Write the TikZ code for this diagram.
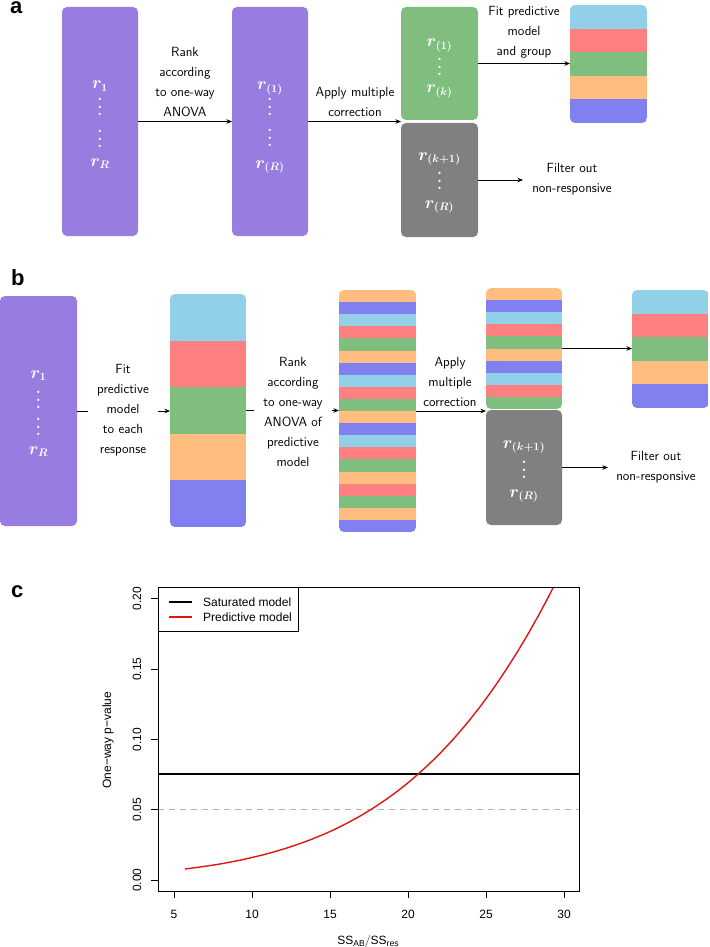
\documentclass[tikz,border=0pt]{standalone}
\usepackage{fontspec}
\newfontfamily\helv{Liberation Sans}
\usetikzlibrary{arrows.meta,fit}
\definecolor{cPU}{RGB}{152,124,224}
\definecolor{cGR}{RGB}{128,190,128}
\definecolor{cGY}{RGB}{128,128,128}
\definecolor{cLB}{RGB}{146,208,234}
\definecolor{cRD}{RGB}{255,128,128}
\definecolor{cOR}{RGB}{255,190,128}
\definecolor{cBL}{RGB}{128,128,240}
\definecolor{cDash}{RGB}{178,178,178}
\definecolor{cRed}{RGB}{225,20,20}
\newcommand{\vdotsx}{\vbox{\baselineskip7.5pt\lineskiplimit0pt\hbox{.}\hbox{.}\hbox{.}}}
\newcommand{\stripebox}[7]{%
  \begin{scope}
    \clip[rounded corners=5pt] (#2,#3) rectangle (#4,#5);
    \foreach \cc [count=\ii from 0] in {#7} {
      \pgfmathsetmacro{\ya}{#3+(#5-#3)*\ii/#6}
      \pgfmathsetmacro{\yb}{#3+(#5-#3)*(\ii+1)/#6+0.4}
      \fill[\cc] (#2,\ya) rectangle (#4,\yb);
    }
  \end{scope}
  \node[inner sep=0pt, outer sep=0pt, fit={(#2,#3) (#4,#5)}] (#1) {};
}
\tikzset{
  boxshape/.style={rounded corners=5pt, inner sep=0pt, outer sep=0pt, draw=none},
  purplebox/.style={boxshape, fill=cPU},
  greenbox/.style={boxshape, fill=cGR},
  graybox/.style={boxshape, fill=cGY},
  mtxt/.style={text=white, font=\fontsize{16}{19}\selectfont\boldmath, inner sep=0pt, anchor=base},
  dtxt/.style={text=white, font=\fontsize{16}{16}\selectfont\bfseries, inner sep=0pt},
  flowlabel/.style={font=\sffamily\fontsize{13.3}{20}\selectfont, align=center, inner sep=0pt},
  overlabel/.style={flowlabel, fill=white, inner xsep=9pt, inner ysep=2pt},
  arr/.style={-{Stealth[length=5.5pt,width=4.5pt]}, line width=0.8pt},
  panellab/.style={font=\helv\bfseries\fontsize{22}{22}\selectfont, anchor=base west, inner sep=0pt},
  ticklab/.style={font=\helv\fontsize{12}{12}\selectfont, inner sep=0pt},
  axline/.style={line width=0.8pt},
}
\begin{document}
\begin{tikzpicture}[x=1pt,y=-1pt]
\useasboundingbox (0,0) rectangle (709,947);
\fill[white] (0,0) rectangle (709,947);

% ---------------- panel a ----------------
\node[panellab] (la) at (10,14) {a};
\node[purplebox, fit={(62,7) (138,236)}] (a1) {};
\node[purplebox, fit={(232,7) (308,236)}] (a2) {};
\node[greenbox, fit={(401,7) (478,120)}] (aG) {};
\node[graybox, fit={(401,123) (478,237)}] (aY) {};
\stripebox{aS}{570}{5}{647}{123}{5}{cLB,cRD,cGR,cOR,cBL}

\node[mtxt] (a1r1) at (100,89) {$r_1$};
\node[dtxt] (a1d1) at (100,107) {\vdotsx};
\node[dtxt] (a1d2) at (100,139) {\vdotsx};
\node[mtxt] (a1rR) at (100,166) {$r_R$};

\node[mtxt] (a2r1) at (270,90) {$r_{(1)}$};
\node[dtxt] (a2d1) at (270,107) {\vdotsx};
\node[dtxt] (a2d2) at (270,138) {\vdotsx};
\node[mtxt] (a2rR) at (270,168) {$r_{(R)}$};

\node[mtxt] (aGr1) at (439.5,47) {$r_{(1)}$};
\node[dtxt] (aGd) at (439.5,67) {\vdotsx};
\node[mtxt] (aGrk) at (439.5,93) {$r_{(k)}$};

\node[mtxt] (aYr1) at (439.5,160) {$r_{(k+1)}$};
\node[dtxt] (aYd) at (439.5,181) {\vdotsx};
\node[mtxt] (aYrR) at (439.5,208) {$r_{(R)}$};

\draw[arr] (a1) -- (a2);
\node[flowlabel] (al1) at (185,82) {Rank\\according\\to one-way\\ANOVA};
\draw[arr] (a2.east) -- (a2.east -| aG.west);
\node[flowlabel] (al2) at (355,102) {Apply multiple\\correction};
\draw[arr] (aG.east) -- (aG.east -| aS.west);
\node[flowlabel] (al3) at (524,32) {Fit predictive\\model\\and group};
\coordinate (aF) at (523,180);
\draw[arr] (aY.east) -- (aF);
\node[flowlabel] (al4) at (572,179) {Filter out\\non-responsive};

% ---------------- panel b ----------------
\node[panellab] (lb) at (11,285) {b};
\node[purplebox, fit={(0,296) (77,526)}] (bP) {};
\stripebox{b2}{170}{294}{246}{527}{5}{cLB,cRD,cGR,cOR,cBL}
\stripebox{b3}{339}{290}{416}{532}{20}{cOR,cBL,cLB,cRD,cGR,cOR,cBL,cLB,cRD,cGR,cOR,cBL,cLB,cRD,cGR,cOR,cRD,cGR,cOR,cBL}
\stripebox{b4}{486}{288}{562}{409}{10}{cOR,cBL,cLB,cRD,cGR,cOR,cBL,cLB,cRD,cGR}
\node[graybox, fit={(486,410) (562,525)}] (bY) {};
\stripebox{bS}{632}{290}{708.6}{408}{5}{cLB,cRD,cGR,cOR,cBL}

\node[mtxt] (bPr1) at (38.5,378) {$r_1$};
\node[dtxt] (bPd1) at (38.5,400) {\vdotsx};
\node[dtxt] (bPd2) at (38.5,427) {\vdotsx};
\node[mtxt] (bPrR) at (38.5,454) {$r_R$};

\node[mtxt] (bYr1) at (524,448) {$r_{(k+1)}$};
\node[dtxt] (bYd) at (524,470) {\vdotsx};
\node[mtxt] (bYrR) at (524,497) {$r_{(R)}$};

\draw[arr] (bP.east) -- (bP.east -| b2.west);
\node[overlabel] (bl1) at (123,410) {Fit\\predictive\\model\\to each\\response};
\draw[arr] (b2.east) -- (b2.east -| b3.west);
\node[overlabel] (bl2) at (293,412) {Rank\\according\\to one-way\\ANOVA of\\predictive\\model};
\draw[arr] (b3.east) -- (b3.east -| b4.west);
\node[flowlabel] (bl3) at (450,382) {Apply\\multiple\\correction};
\draw[arr] (b4.east) -- (b4.east -| bS.west);
\coordinate (bF) at (608,467.5);
\draw[arr] (bY.east) -- (bF);
\node[flowlabel] (bl4) at (656,467) {Filter out\\non-responsive};

% ---------------- panel c ----------------
\node[panellab] (lc) at (11,597) {c};
\begin{scope}[shift={(96,880)}, xscale=15.6, yscale=-1406]
  \draw[cDash, line width=0.9pt, dash pattern=on 6pt off 5pt] (3.97,0.05) -- (30.96,0.05);
  \draw[line width=2pt] (3.97,0.0754) -- (30.96,0.0754);
  \draw[cRed, line width=1.4pt, domain=5.7:29.3, samples=80, smooth]
    plot (\x, {exp(-5.884+0.18967*\x-0.001448*\x*\x)});
\end{scope}
\draw[axline] (158,587) rectangle (579,891);
\foreach \v/\xx in {5/174,10/252,15/330,20/408,25/486,30/564} {
  \draw[axline] (\xx,891) -- (\xx,898);
  \node[ticklab] at (\xx,914) {\v};
}
\foreach \v/\yy in {0.00/880,0.05/809.7,0.10/739.4,0.15/669.1,0.20/598.8} {
  \draw[axline] (158,\yy) -- (151,\yy);
  \node[ticklab, rotate=90] at (137,\yy) {\v};
}
% legend
\draw[axline, fill=white] (158,587) rectangle (298,631);
\draw[line width=2pt] (169,602) -- (192,602);
\draw[cRed, line width=1.4pt] (169,617) -- (192,617);
\node[ticklab, anchor=west] (leg1) at (203,602) {Saturated model};
\node[ticklab, anchor=west] (leg2) at (203,617) {Predictive model};
% axis labels
\node[ticklab, rotate=90] (ylab) at (108,740) {One−way p−value};
\node[ticklab, anchor=base] (xlab) at (368,944) {SS\raisebox{-2pt}{\fontsize{8.6}{9}\selectfont AB}$/$SS\raisebox{-2pt}{\fontsize{8.6}{9}\selectfont res}};
\end{tikzpicture}
\end{document}
